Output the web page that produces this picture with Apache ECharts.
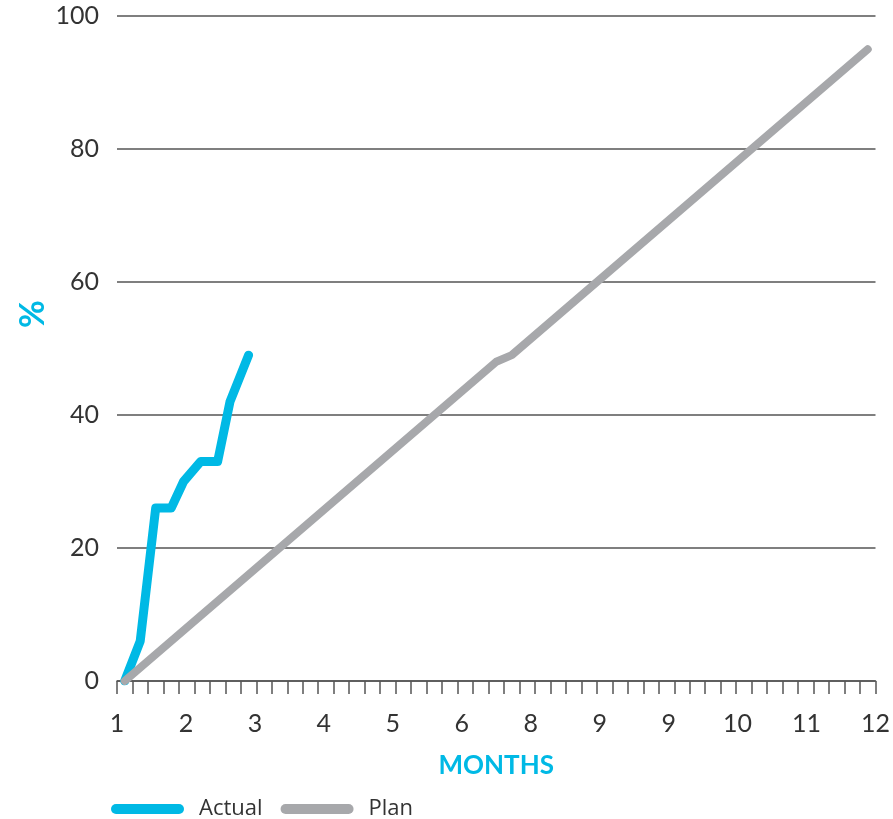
<!DOCTYPE html>
<html>
<head>
<meta charset="utf-8">
<script src="https://cdn.jsdelivr.net/npm/echarts@6/dist/echarts.min.js"></script>
<style>
  html, body { margin: 0; padding: 0; background: #ffffff; }
  #chart { width: 893px; height: 819px; }
</style>
</head>
<body>
<div id="chart"></div>
<script>
// Month labels shown under the axis (one per month step)
const monthLabels = ['1', '2', '3', '4', '5', '6', '8', '9', '9', '10', '11', '12'];
// Weekly tick scale along the bottom axis
const weekCount = 49;
// Percentage scale
const yMin = 0, yMax = 100, yStep = 20;

// Actual progress: week position and percent complete
const actualWeeks  = [0.5, 1.5, 2.5, 3.5, 4.3, 5.4, 6.5, 7.3, 8.5];
const actualValues = [0,   6,   26,  26,  30,  33,  33,  42,  49];

// Planned progress: week position and percent complete
const planWeeks  = [0.5, 24.5, 25.5, 48.5];
const planValues = [0,   48,   49,   95];

const CYAN = '#00b9e5';
const GREY = '#a7a8ab';
const TEXT = '#333333';
const FONT = 'Lato, "Noto Sans", sans-serif';
// pill-shaped legend swatch
const PILL = 'path://M5,0 H68 A5,5 0 0 1 68,10 H5 A5,5 0 0 1 5,0 Z';

const pairs = (xs, ys) => xs.map((x, i) => [x, ys[i]]);

const chart = echarts.init(document.getElementById('chart'), null, { renderer: 'canvas' });

chart.setOption({
  animation: false,
  backgroundColor: '#ffffff',
  grid: { left: 117, right: 16, top: 16, bottom: 138, containLabel: false },
  xAxis: [
    {
      // weekly ticks
      type: 'value',
      min: 0,
      max: weekCount,
      interval: 1,
      position: 'bottom',
      axisLine: { show: true, lineStyle: { color: '#555555', width: 1.5 } },
      axisTick: { show: true, length: 13, lineStyle: { color: '#555555', width: 1.5 } },
      axisLabel: { show: false },
      splitLine: { show: false }
    },
    {
      // month labels
      type: 'value',
      min: 0,
      max: monthLabels.length - 1,
      interval: 1,
      position: 'bottom',
      axisLine: { show: false },
      axisTick: { show: false },
      splitLine: { show: false },
      axisLabel: {
        margin: 30,
        color: TEXT,
        fontFamily: FONT,
        fontSize: 25,
        formatter: v => monthLabels[Math.round(v)]
      },
      name: 'MONTHS',
      nameLocation: 'middle',
      nameGap: 72,
      nameTextStyle: { color: CYAN, fontFamily: FONT, fontSize: 26, fontWeight: 'bold' }
    }
  ],
  yAxis: {
    type: 'value',
    min: yMin,
    max: yMax,
    interval: yStep,
    axisLine: { show: false },
    axisTick: { show: false },
    axisLabel: { margin: 18, color: TEXT, fontFamily: FONT, fontSize: 25 },
    splitLine: { show: true, lineStyle: { color: '#555555', width: 1.5 } }
  },
  legend: {
    left: 106,
    top: 793,
    itemWidth: 73,
    itemHeight: 10,
    itemGap: 18,
    textStyle: { color: TEXT, fontFamily: '"Open Sans", Lato, sans-serif', fontSize: 22, padding: [0, 0, 0, 10] },
    data: [
      { name: 'Actual', icon: PILL },
      { name: 'Plan', icon: PILL }
    ]
  },
  graphic: [
    {
      type: 'text',
      x: 33,
      y: 314,
      rotation: Math.PI / 2,
      style: {
        text: '%',
        fill: CYAN,
        font: 'bold 34px ' + FONT,
        align: 'center',
        verticalAlign: 'middle'
      }
    }
  ],
  series: [
    {
      name: 'Plan',
      type: 'line',
      xAxisIndex: 0,
      data: pairs(planWeeks, planValues),
      showSymbol: false,
      symbol: 'none',
      color: GREY,
      lineStyle: { color: GREY, width: 8, cap: 'round', join: 'round' },
      z: 2
    },
    {
      name: 'Actual',
      type: 'line',
      xAxisIndex: 0,
      data: pairs(actualWeeks, actualValues),
      showSymbol: false,
      symbol: 'none',
      color: CYAN,
      lineStyle: { color: CYAN, width: 9, cap: 'round', join: 'round' },
      z: 1
    }
  ]
});
</script>
</body>
</html>
